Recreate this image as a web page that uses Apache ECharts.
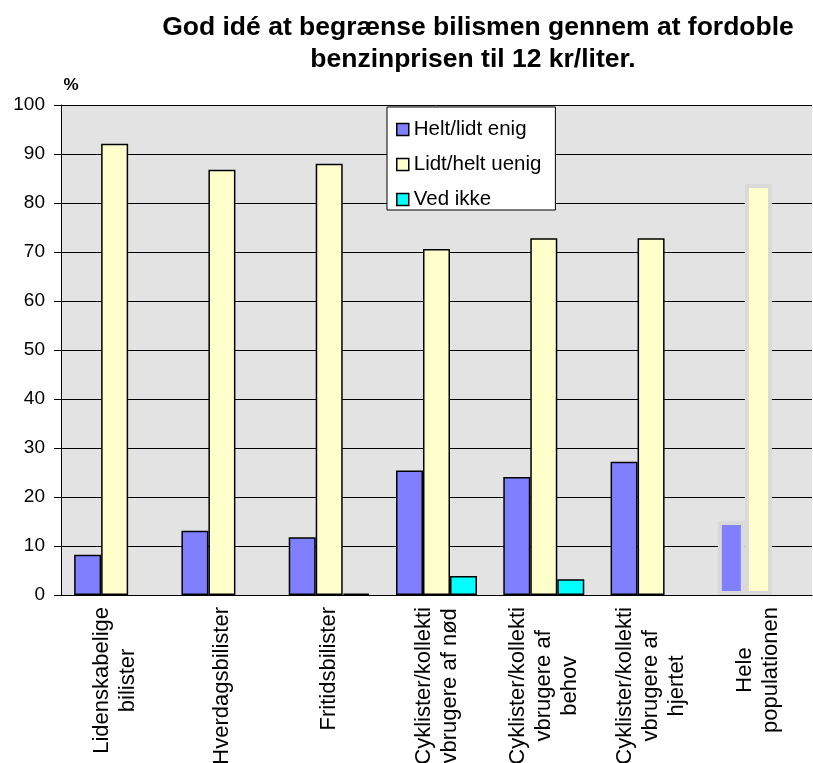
<!DOCTYPE html>
<html>
<head>
<meta charset="utf-8">
<script src="https://cdn.jsdelivr.net/npm/echarts@6/dist/echarts.min.js"></script>
<style>
html,body{margin:0;padding:0;background:#fff;}
#chart{width:813px;height:763px;}
</style>
</head>
<body>
<div id="chart"></div>
<script>
var titleLines = ['God idé at begrænse bilismen gennem at fordoble', 'benzinprisen til 12 kr/liter.'];
var categories = ['Lidenskabelige\nbilister', 'Hverdagsbilister', 'Fritidsbilister',
  'Cyklister/kollekti\nvbrugere af nød', 'Cyklister/kollekti\nvbrugere af\nbehov',
  'Cyklister/kollekti\nvbrugere af\nhjertet', 'Hele\npopulationen'];
var seriesNames = ['Helt/lidt enig', 'Lidt/helt uenig', 'Ved ikke'];
var enig = [8.2, 13.1, 11.8, 25.4, 24.1, 27.2, 15.1];
var uenig = [92.1, 86.8, 88.0, 70.6, 72.8, 72.8, 83.9];
var vedIkke = [null, null, 0.3, 3.9, 3.2, null, null];
var yTicks = [0, 10, 20, 30, 40, 50, 60, 70, 80, 90, 100];

var FONT = '"Liberation Sans", Arial, sans-serif';
var colors = ['#8080ff', '#ffffcc', '#00ffff'];
var highlightIndex = 6;

function makeData(arr) {
  return arr.map(function (v, i) {
    if (v === null) return '-';
    if (i === highlightIndex) {
      return { value: v, itemStyle: { borderColor: '#d9d9d9', borderWidth: 4 } };
    }
    return v;
  });
}

var chart = echarts.init(document.getElementById('chart'), null, { renderer: 'canvas' });
var option = {
  backgroundColor: '#ffffff',
  animation: false,
  textStyle: { fontFamily: FONT },
  graphic: [
    { type: 'text', x: 478, y: 28, style: { text: titleLines[0], fill: '#000', font: 'bold 26.5px ' + FONT, align: 'center', verticalAlign: 'middle' } },
    { type: 'text', x: 473, y: 60, style: { text: titleLines[1], fill: '#000', font: 'bold 26.5px ' + FONT, align: 'center', verticalAlign: 'middle' } },
    { type: 'text', x: 71, y: 85, style: { text: '%', fill: '#000', font: 'bold 17px ' + FONT, align: 'center', verticalAlign: 'middle' } }
  ],
  legend: {
    data: seriesNames,
    orient: 'vertical',
    left: 387,
    top: 107,
    backgroundColor: '#ffffff',
    borderColor: '#000',
    borderWidth: 1,
    padding: [12, 14, 0, 9],
    itemGap: 14,
    itemWidth: 12,
    itemHeight: 12,
    icon: 'rect',
    itemStyle: { borderColor: '#000', borderWidth: 1.5 },
    textStyle: { fontSize: 20.5, lineHeight: 20, color: '#000', fontFamily: FONT, padding: [0, 0, 0, 0] }
  },
  grid: {
    left: 61, right: 1, top: 105, bottom: 168,
    containLabel: false,
    outerBoundsMode: 'none',
    show: true, backgroundColor: '#e3e3e3', borderWidth: 0
  },
  xAxis: {
    type: 'category',
    data: categories,
    axisLine: { lineStyle: { color: '#000', width: 1 } },
    axisTick: { show: false },
    axisLabel: {
      interval: 0,
      rotate: 90,
      margin: 12,
      color: '#000',
      fontSize: 22,
      lineHeight: 26,
      fontFamily: FONT,
      formatter: function (v) {
        return v.split('\n').map(function (s) { return '{c|' + s + '}'; }).join('\n');
      },
      rich: { c: { fontSize: 22, lineHeight: 26, align: 'center', color: '#000', fontFamily: FONT } }
    }
  },
  yAxis: {
    type: 'value',
    min: yTicks[0],
    max: yTicks[yTicks.length - 1],
    interval: 10,
    axisLine: { show: true, lineStyle: { color: '#000', width: 1 } },
    axisTick: { show: true, length: 7, lineStyle: { color: '#000' } },
    axisLabel: { color: '#000', fontSize: 19, margin: 16, fontFamily: FONT },
    splitLine: { show: true, lineStyle: { color: '#000', width: 1 } }
  },
  series: [
    { name: seriesNames[0], type: 'bar', barWidth: 27, barGap: '0%', data: makeData(enig),
      itemStyle: { color: colors[0], borderColor: '#000', borderWidth: 1.5 } },
    { name: seriesNames[1], type: 'bar', barWidth: 27, barGap: '0%', data: makeData(uenig),
      itemStyle: { color: colors[1], borderColor: '#000', borderWidth: 1.5 } },
    { name: seriesNames[2], type: 'bar', barWidth: 27, barGap: '0%', data: makeData(vedIkke),
      itemStyle: { color: colors[2], borderColor: '#000', borderWidth: 1.5 } }
  ]
};
chart.setOption(option);
</script>
</body>
</html>
